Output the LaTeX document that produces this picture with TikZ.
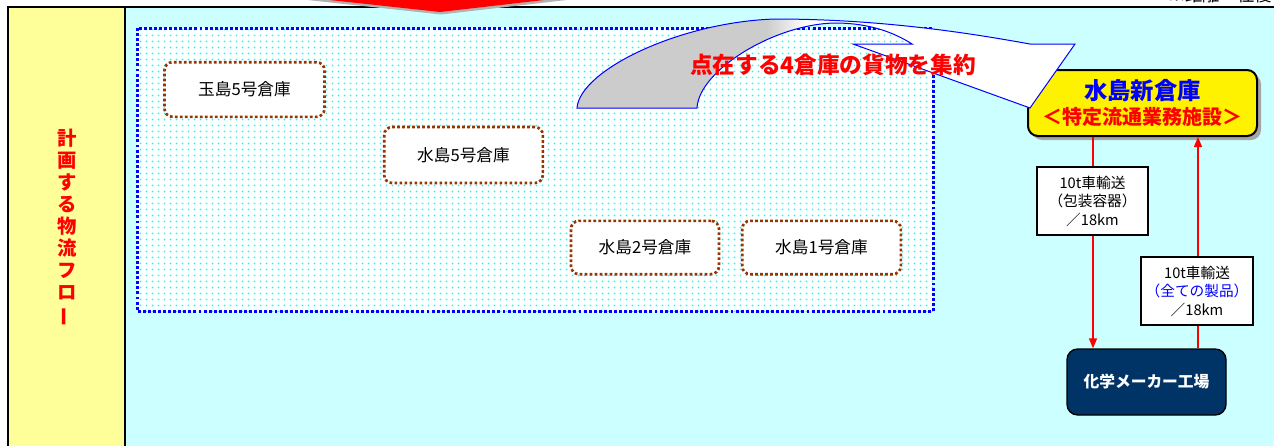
\documentclass[tikz,border=0pt]{standalone}
\usepackage{fontspec}
\setmainfont{Noto Sans CJK JP}
\usetikzlibrary{arrows.meta,patterns.meta,shadows}
\definecolor{bgcyan}{HTML}{CCFFFF}
\definecolor{colyellow}{HTML}{FFFF99}
\definecolor{brownd}{HTML}{993300}
\definecolor{navy}{HTML}{003366}
\definecolor{dotcyan}{HTML}{00FFFF}
\tikzdeclarepattern{name=cdots, type=uncolored, bounding box={(0,0) and (4.5pt,4.5pt)}, tile size={(4.5pt,4.5pt)}, code={\fill (2.25pt,2.25pt) circle (0.8pt);}}
\pgfdeclarehorizontalshading{arrsh}{100bp}{color(0bp)=(gray!40); color(44bp)=(gray!40); color(48bp)=(white); color(100bp)=(white)}
\begin{document}
\begin{tikzpicture}[x=0.75pt,y=-0.75pt,
  frame/.style={line width=1.5pt, black},
  whbox/.style={draw=brownd, line width=2pt, dash pattern=on 2pt off 1.75pt, rounded corners=6pt, fill=white, font=\fontsize{12.5pt}{14pt}\selectfont, inner sep=0pt},
  lbl/.style={draw=black, fill=white, line width=0.8pt, align=center, font=\fontsize{11pt}{13.9pt}\selectfont, minimum height=51pt, inner sep=0pt},
  link/.style={red, line width=1.1pt, -{Triangle[length=7.5pt,width=6pt]}},
]
\useasboundingbox (0,0) rectangle (1274,446);
\fill[white] (0,0) rectangle (1274,446);
\fill[bgcyan] (125,7) rectangle (1274,446);
\fill[colyellow] (8,7) rectangle (125,446);
\draw[frame] (8,446) -- (8,7) -- (1274,7);
\draw[frame] (125,7) -- (125,446);

\node[red, font=\bfseries\fontsize{14.5pt}{16.5pt}\selectfont, align=center, inner sep=0pt] (flow) at (67,228) {計\\画\\す\\る\\物\\流\\フ\\ロ\\\rotatebox[origin=c]{90}{ー}};

% dotted area
\fill[white] (137,28) rectangle (933,311);
\fill[pattern=cdots, pattern color=dotcyan] (137,28) rectangle (933,311);
\draw[blue, line width=2.25pt, dash pattern=on 2.2pt off 1.6pt] (137,28) rectangle (933,311);

\node[whbox, minimum width=120pt, minimum height=41pt] (w1) at (244.5,89.5) {玉島5号倉庫};
\node[whbox, minimum width=119pt, minimum height=42pt] (w2) at (463.5,155) {水島5号倉庫};
\node[whbox, minimum width=111pt, minimum height=40pt] (w3) at (645,247.5) {水島2号倉庫};
\node[whbox, minimum width=119pt, minimum height=40pt] (w4) at (821.5,247.5) {水島1号倉庫};

% new warehouse
\node[draw=black, line width=1.5pt, fill=yellow, rounded corners=7.5pt, minimum width=171.75pt, minimum height=49.5pt, drop shadow={shadow xshift=3pt, shadow yshift=-3pt, fill=gray!70, opacity=1}, align=center, inner sep=0pt, font=\bfseries\fontsize{15pt}{18.75pt}\selectfont] (ybox) at (1142.5,103) {\textcolor{blue}{\fontsize{17.5pt}{18.75pt}\selectfont 水島新倉庫}\\\textcolor{red}{＜特定流通業務施設＞}};

% curved arrow
\shade[shading=arrsh, draw=blue, line width=0.75pt] (577,108) .. controls (580,70) and (680,22) .. (775,19) .. controls (890,19) and (985,36) .. (1030,44) -- (1075,44) -- (1030,108) -- (853,44) -- (912,44) .. controls (895,33) and (870,23) .. (835,23) .. controls (775,24) and (699,70) .. (697,108) -- cycle;

\node[red, font=\bfseries\fontsize{17pt}{20pt}\selectfont, inner sep=0pt] (msg) at (833,65) {点在する4倉庫の貨物を集約};

% factory
\node[draw=black, line width=1pt, fill=navy, rounded corners=8pt, minimum width=119.25pt, minimum height=49.5pt, text=white, font=\bfseries\fontsize{11.8pt}{14pt}\selectfont] (fac) at (1146.5,382) {化学メーカー工場};

\coordinate (c1) at (1093,0);
\coordinate (c2) at (1198,0);
\draw[link] (ybox.south -| c1) -- (fac.north -| c1);
\draw[link] (fac.north -| c2) -- (ybox.south -| c2);

\node[lbl, minimum width=83.25pt] (t1) at (1092.5,201) {10t車輸送\\（包装容器）\\／18km};
\node[lbl, minimum width=84pt] (t2) at (1197,291) {10t車輸送\\\textcolor{blue}{（全ての製品）}\\／18km};

% top red arrow
\fill[gray!60] (303,-0.5) -- (441,14.5) -- (571,-0.5) -- cycle;
\fill[red] (302,-3) -- (440,12) -- (570,-3) -- cycle;

\node[anchor=base west, inner sep=0pt, font=\fontsize{13pt}{15pt}\selectfont] (note) at (1168,2) {※距離：往復};
\end{tikzpicture}
\end{document}
